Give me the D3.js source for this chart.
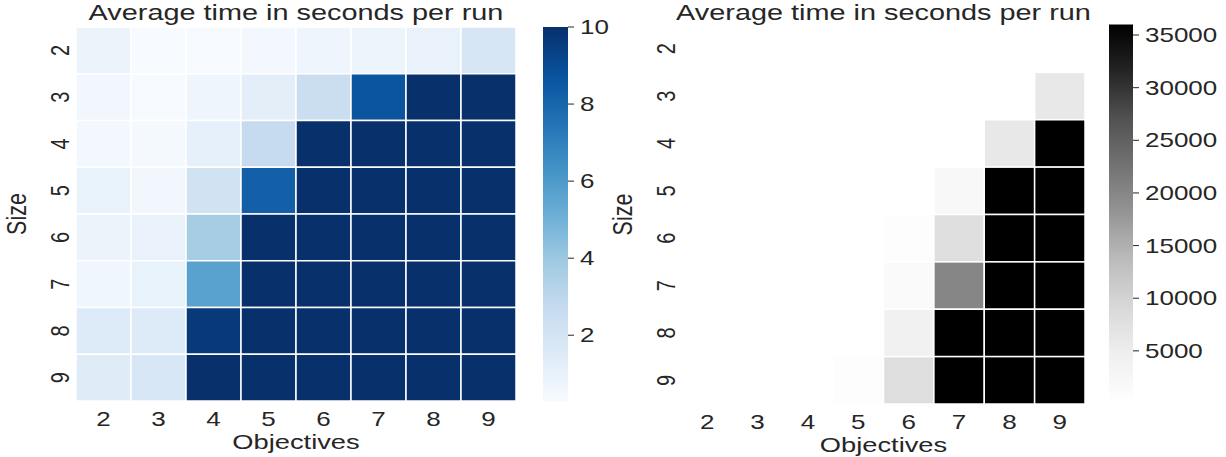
<!DOCTYPE html>
<html>
<head>
<meta charset="utf-8">
<script src="https://cdn.jsdelivr.net/npm/d3@7"></script>
<style>
  html, body { margin: 0; padding: 0; background: #ffffff; }
  text { font-family: "Liberation Sans", Arial, sans-serif; fill: #262626; }
</style>
</head>
<body>
<svg id="chart" width="1226" height="457"></svg>
<script>
// ---------------- data ----------------
const objectives = [2, 3, 4, 5, 6, 7, 8, 9];
const sizes = [2, 3, 4, 5, 6, 7, 8, 9];
// average time in seconds per run, one array per size (columns = objectives 2..9)
const timeSize2 = [0.86, 0.28, 0.35, 0.52, 0.72, 0.81, 0.96, 1.9];
const timeSize3 = [0.57, 0.33, 0.72, 1.25, 2.5, 8.64, 60, 6050];
const timeSize4 = [0.5, 0.45, 1.1, 2.71, 20, 150, 6050, 36000];
const timeSize5 = [1.0, 0.55, 2.16, 8.2, 40, 2100, 36000, 36000];
const timeSize6 = [0.86, 0.96, 3.68, 30, 600, 7800, 36000, 36000];
const timeSize7 = [0.65, 1.0, 5.67, 50, 1500, 20000, 36000, 36000];
const timeSize8 = [1.54, 1.54, 9.63, 80, 4300, 36000, 36000, 36000];
const timeSize9 = [1.45, 1.79, 15, 600, 8000, 36000, 36000, 36000];
const leftTicks = [2, 4, 6, 8, 10];
const rightTicks = [5000, 10000, 15000, 20000, 25000, 30000, 35000];
const leftVmax = 10;
const titleText = "Average time in seconds per run";
const xLabel = "Objectives";
const yLabel = "Size";

const BLUES = ["#f7fbff","#deebf7","#c6dbef","#9ecae1","#6baed6","#4292c6","#2171b5","#08519c","#08306b"];
const GREYS = ["#ffffff","#f0f0f0","#d9d9d9","#bdbdbd","#969696","#737373","#525252","#252525","#000000"];

// ---------------- build table ----------------
const rowsArr = [timeSize2, timeSize3, timeSize4, timeSize5, timeSize6, timeSize7, timeSize8, timeSize9];
const cells = [];
rowsArr.forEach((row, i) => row.forEach((v, j) => cells.push({size: sizes[i], obj: objectives[j], value: v})));
const allExtent = d3.extent(cells, d => d.value);

const SX = 1.3; // horizontal stretch of text
const svg = d3.select("#chart");

function cmapScale(colors, vmin, vmax) {
  const dom = colors.map((c, i) => vmin + (vmax - vmin) * i / (colors.length - 1));
  return d3.scaleLinear().domain(dom).range(colors).interpolate(d3.interpolateRgb).clamp(true);
}

function drawPanel(cfg) {
  const g = svg.append("g");
  const x = d3.scaleBand().domain(objectives).range([cfg.gx0, cfg.gx1]);
  const y = d3.scaleBand().domain(sizes).range([cfg.gy0, cfg.gy1]);
  const color = cmapScale(cfg.colors, cfg.vmin, cfg.vmax);

  g.selectAll("rect.cell").data(cells).join("rect")
    .attr("class", "cell")
    .attr("x", d => x(d.obj)).attr("y", d => y(d.size))
    .attr("width", x.bandwidth()).attr("height", y.bandwidth())
    .attr("fill", d => color(d.value))
    .attr("stroke", "#ffffff").attr("stroke-width", 1.5);

  // x tick labels
  g.selectAll("text.xt").data(objectives).join("text")
    .attr("class", "xt")
    .attr("text-anchor", "middle")
    .attr("font-size", 20)
    .attr("transform", d => `translate(${x(d) + x.bandwidth() / 2},${cfg.gy1 + 25}) scale(${SX},1)`)
    .text(d => d);

  // y tick labels (rotated)
  g.selectAll("text.yt").data(sizes).join("text")
    .attr("class", "yt")
    .attr("text-anchor", "middle")
    .attr("font-size", 20)
    .attr("dy", "0.35em")
    .attr("transform", d => `translate(${cfg.gx0 - 16},${y(d) + y.bandwidth() / 2}) scale(${SX},1) rotate(-90)`)
    .text(d => d);

  // axis labels
  g.append("text")
    .attr("text-anchor", "middle").attr("font-size", 21)
    .attr("transform", `translate(${(cfg.gx0 + cfg.gx1) / 2},${cfg.gy1 + 48}) scale(${SX},1)`)
    .text(xLabel);
  g.append("text")
    .attr("text-anchor", "middle").attr("font-size", 21.5)
    .attr("dy", "0.35em")
    .attr("transform", `translate(${cfg.gx0 - 60},${(cfg.gy0 + cfg.gy1) / 2}) scale(${SX},1) rotate(-90)`)
    .text(yLabel);

  // title
  g.append("text")
    .attr("text-anchor", "middle").attr("font-size", 22.2)
    .attr("transform", `translate(${(cfg.gx0 + cfg.gx1) / 2},20) scale(${SX},1)`)
    .text(titleText);

  // colorbar
  const gradId = "grad" + cfg.id;
  const grad = svg.append("defs").append("linearGradient")
    .attr("id", gradId).attr("x1", 0).attr("y1", 1).attr("x2", 0).attr("y2", 0);
  grad.selectAll("stop").data(cfg.colors).join("stop")
    .attr("offset", (d, i) => i / (cfg.colors.length - 1))
    .attr("stop-color", d => d);
  g.append("rect")
    .attr("x", cfg.cx0).attr("y", cfg.cy0)
    .attr("width", cfg.cx1 - cfg.cx0).attr("height", cfg.cy1 - cfg.cy0)
    .attr("fill", `url(#${gradId})`);
  const cy = d3.scaleLinear().domain([cfg.vmin, cfg.vmax]).range([cfg.cy1, cfg.cy0]);
  g.selectAll("line.ct").data(cfg.ticks).join("line")
    .attr("class", "ct")
    .attr("x1", cfg.cx1).attr("x2", cfg.cx1 + 6)
    .attr("y1", d => cy(d)).attr("y2", d => cy(d))
    .attr("stroke", "#262626").attr("stroke-width", 1);
  g.selectAll("text.ctl").data(cfg.ticks).join("text")
    .attr("class", "ctl")
    .attr("font-size", 20).attr("dy", "0.35em")
    .attr("transform", d => `translate(${cfg.cx1 + 12},${cy(d)}) scale(${SX},1)`)
    .text(d => d);
}

drawPanel({
  id: "L", colors: BLUES, vmin: allExtent[0], vmax: leftVmax,
  gx0: 76, gx1: 516, gy0: 27, gy1: 401,
  cx0: 543, cx1: 568, cy0: 27, cy1: 401.5,
  ticks: leftTicks
});
drawPanel({
  id: "R", colors: GREYS, vmin: allExtent[0], vmax: allExtent[1],
  gx0: 682, gx1: 1085, gy0: 25, gy1: 404,
  cx0: 1109, cx1: 1133, cy0: 24.5, cy1: 403.5,
  ticks: rightTicks
});
</script>
</body>
</html>
